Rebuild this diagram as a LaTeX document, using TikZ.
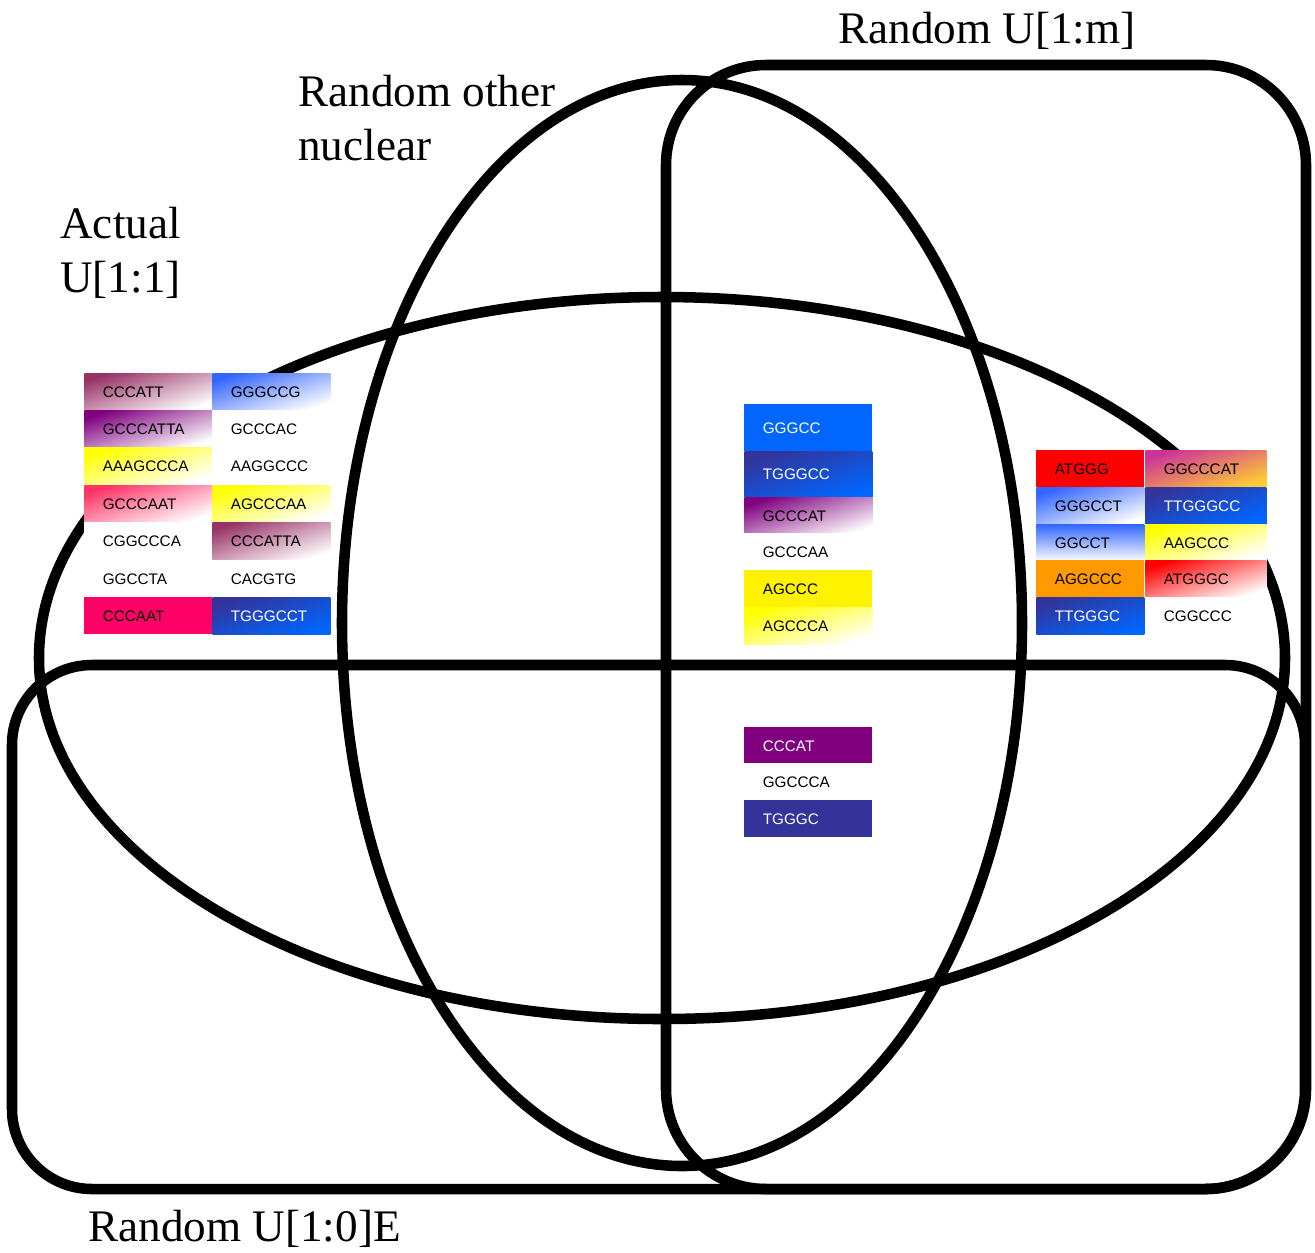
\documentclass[tikz,border=0pt]{standalone}
\usepackage{fontspec}
\setmainfont{Liberation Serif}
\newfontfamily\seqfamily{Liberation Sans}
\usetikzlibrary{positioning}
\definecolor{maroon}{HTML}{993366}
\definecolor{lightblue}{HTML}{3366FF}
\definecolor{purp}{HTML}{800080}
\definecolor{pinkred}{HTML}{FF3366}
\definecolor{deeppink}{HTML}{FF0066}
\definecolor{navy}{HTML}{333399}
\definecolor{azure}{HTML}{0066FF}
\definecolor{magent}{HTML}{CC3399}
\definecolor{gold}{HTML}{FFCC33}
\definecolor{orng}{HTML}{FF9900}
\tikzset{
    setline/.style={line width=6pt},
    setlabel/.style={anchor=base west, inner sep=0pt, align=left, font=\fontsize{25.7}{30.7}\selectfont},
    seq/.style={anchor=north west, inner xsep=0.37cm, inner ysep=0pt, text width=#1, minimum height=0.74cm, font=\seqfamily\fontsize{8.7}{10}\selectfont, fill=white},
    seq/.default=1.82cm,
    fade/.style={top color=#1, bottom color=white, shading angle=18},
    deep/.style={top color=navy, bottom color=azure, shading angle=18, text=white},
}

\begin{document}
\begin{tikzpicture}[x=0.02cm, y=-0.02cm]
    \useasboundingbox (0,0) rectangle (1315,1252);

    % the four sets
    \draw [setline] (662,658) ellipse [x radius=623, y radius=361];
    \draw [setline] (682,623) ellipse [x radius=340, y radius=543];
    \draw [setline, rounded corners=2cm] (666,65) rectangle (1306,1189);
    \draw [setline, rounded corners=1.6cm] (700,1189) -- (12,1189) -- (12,665) -- (1305,665)
        [rounded corners=2cm] -- (1305,1189) -- cycle;

    % set names
    \node [setlabel] (um) at (838,43) {Random U[1:m]};
    \node [setlabel] (other) at (298,160) {Random other\\nuclear};
    \node [setlabel] (actual) at (60,292) {Actual\\U[1:1]};
    \node [setlabel] (ue) at (88,1241) {Random U[1:0]E};

    % only in actual
    \node [seq, fade=maroon] (a1) at (84,373) {CCCATT};
    \node [seq, fade=purp] (a2) at (84,410) {GCCCATTA};
    \node [seq, fade=yellow] (a3) at (84,447) {AAAGCCCA};
    \node [seq, fade=pinkred] (a4) at (84,485) {GCCCAAT};
    \node [seq] (a5) at (84,522) {CGGCCCA};
    \node [seq] (a6) at (84,560) {GGCCTA};
    \node [seq, fill=deeppink] (a7) at (84,597) {CCCAAT};
    \node [seq=1.62cm, fade=lightblue] (a8) at (212,373) {GGGCCG};
    \node [seq=1.62cm] (a9) at (212,410) {GCCCAC};
    \node [seq=1.62cm] (a10) at (212,447) {AAGGCCC};
    \node [seq=1.62cm, fade=yellow] (a11) at (212,485) {AGCCCAA};
    \node [seq=1.62cm, fade=maroon] (a12) at (212,522) {CCCATTA};
    \node [seq=1.62cm] (a13) at (212,560) {CACGTG};
    \node [seq=1.62cm, deep] (a14) at (212,597) {TGGGCCT};

    % actual, other and U[1:m]
    \node [seq, fill=azure, text=white, minimum height=0.94cm] (c1) at (744,404) {GGGCC};
    \node [seq, deep, minimum height=0.92cm] (c2) at (744,451) {TGGGCC};
    \node [seq, fade=purp] (c3) at (744,497) {GCCCAT};
    \node [seq] (c4) at (744,533) {GCCCAA};
    \node [seq, fill=yellow] (c5) at (744,570) {AGCCC};
    \node [seq, fade=yellow] (c6) at (744,607) {AGCCCA};

    % all four
    \node [seq, fill=purp, text=white] (d1) at (744,727) {CCCAT};
    \node [seq] (d2) at (744,763) {GGCCCA};
    \node [seq, fill=navy, text=white] (d3) at (744,800) {TGGGC};

    % actual and U[1:m]
    \node [seq=1.42cm, fill=red] (r1) at (1036,450) {ATGGG};
    \node [seq=1.42cm, fade=lightblue] (r2) at (1036,487) {GGGCCT};
    \node [seq=1.42cm, top color=lightblue, bottom color=white] (r3) at (1036,524) {GGCCT};
    \node [seq=1.42cm, fill=orng] (r4) at (1036,560) {AGGCCC};
    \node [seq=1.42cm, deep] (r5) at (1036,597) {TTGGGC};
    \node [seq=1.68cm, top color=magent, bottom color=gold, shading angle=18] (r6) at (1145,450) {GGCCCAT};
    \node [seq=1.68cm, deep] (r7) at (1145,487) {TTGGGCC};
    \node [seq=1.68cm, fade=yellow] (r8) at (1145,524) {AAGCCC};
    \node [seq=1.68cm, fade=red] (r9) at (1145,560) {ATGGGC};
    \node [seq=1.68cm] (r10) at (1145,597) {CGGCCC};
\end{tikzpicture}
\end{document}
